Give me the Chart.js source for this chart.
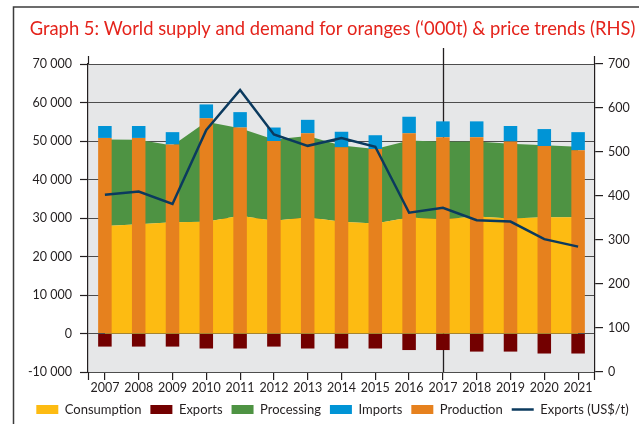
<!DOCTYPE html>
<html>
<head>
<meta charset="utf-8">
<script src="https://cdn.jsdelivr.net/npm/chart.js@4.4.1/dist/chart.umd.min.js"></script>
<style>
html,body{margin:0;padding:0;background:#fff;}
#wrap{position:relative;width:639px;height:424px;}
canvas{display:block;}
</style>
</head>
<body>
<div id="wrap"><canvas id="c" width="639" height="424"></canvas></div>
<script>
// ---- data ----
const years = ['2007','2008','2009','2010','2011','2012','2013','2014','2015','2016','2017','2018','2019','2020','2021'];
const consumption = [27900, 28400, 28900, 29000, 30600, 29300, 30200, 29000, 28600, 30100, 29700, 30400, 29900, 30200, 30200];
const processing  = [22500, 21900, 19900, 26000, 22700, 21100, 21100, 19800, 19300, 20000, 20100, 19500, 19400, 18700, 18300];
const production  = [50800, 50800, 49100, 55900, 53500, 50000, 52000, 48400, 47900, 52000, 51000, 51000, 49900, 48700, 47600];
const imports     = [3100, 3100, 3200, 3600, 4000, 3500, 3500, 4000, 3600, 4300, 4100, 4100, 4000, 4400, 4700];
const exportsQty  = [-3400, -3400, -3400, -3900, -3900, -3400, -3900, -3900, -3900, -4300, -4300, -4700, -4700, -5200, -5200];
const exportPrice = [403, 410, 382, 550, 641, 540, 514, 532, 512, 362, 373, 345, 342, 302, 285];
const leftTicks  = {min: -10000, max: 70000, step: 10000};
const rightTicks = {min: 0, max: 700, step: 100};
const markerYear = '2017';

const FONT = 'Lato, "Open Sans", sans-serif';
const TXT = '#231f20';
const titleText = 'Graph 5: World supply and demand for oranges (\u2018000t) & price trends (RHS)';

// fit title width
const mctx = document.createElement('canvas').getContext('2d');
mctx.font = '20px ' + FONT;
let titleSize = 20 * 606 / mctx.measureText(titleText).width;
titleSize = Math.max(14, Math.min(22, titleSize));

function fmt(v) {
  if (v === 0) return '0';
  const s = Math.abs(v).toString().replace(/\B(?=(\d{3})+(?!\d))/g, ' ');
  return (v < 0 ? '-' : '') + s;
}

const decor = {
  id: 'decor',
  beforeDraw(chart) {
    const {ctx, chartArea: a} = chart;
    ctx.save();
    ctx.fillStyle = '#e6e7e8';
    ctx.fillRect(a.left, a.top, a.right - a.left, a.bottom - a.top);
    ctx.strokeStyle = '#3c3c3c';
    ctx.lineWidth = 1.5;
    ctx.beginPath();
    ctx.moveTo(13.5, 424); ctx.lineTo(13.5, 7); ctx.lineTo(639, 7);
    ctx.stroke();
    ctx.restore();
  },
  beforeDatasetsDraw(chart) {
    const {ctx, chartArea: a} = chart;
    const x = Math.round(chart.scales.x.getPixelForValue(years.indexOf(markerYear))) + 0.5;
    ctx.save();
    ctx.strokeStyle = '#231f20';
    ctx.lineWidth = 1.3;
    ctx.beginPath();
    ctx.moveTo(x, a.top - 16); ctx.lineTo(x, a.bottom);
    ctx.stroke();
    ctx.restore();
  },
  afterDraw(chart) {
    const {ctx, chartArea: a} = chart;
    ctx.save();
    ctx.strokeStyle = '#231f20';
    ctx.lineWidth = 1.2;
    ctx.beginPath();
    ctx.moveTo(a.left + 0.5, a.top - 8); ctx.lineTo(a.left + 0.5, a.top);
    ctx.moveTo(a.right - 0.5, a.top - 8); ctx.lineTo(a.right - 0.5, a.top);
    ctx.moveTo(a.left + 0.5, a.bottom); ctx.lineTo(a.left + 0.5, a.bottom + 8);
    ctx.moveTo(a.right - 0.5, a.bottom); ctx.lineTo(a.right - 0.5, a.bottom + 8);
    ctx.stroke();
    ctx.restore();
  }
};

const barCommon = {type: 'bar', stack: 's', barPercentage: 0.4, categoryPercentage: 1, borderWidth: 0, yAxisID: 'y'};

const datasets = [
  {type: 'line', label: 'Consumption', data: consumption, backgroundColor: '#fdbb12', borderColor: '#fdbb12',
   borderWidth: 0, pointRadius: 0, fill: 'origin', order: 3, yAxisID: 'y', legendStyle: 'rect'},
  Object.assign({label: 'Exports', data: exportsQty, backgroundColor: '#730000', order: 1, legendStyle: 'rect'}, barCommon),
  {type: 'line', label: 'Processing', data: processing, backgroundColor: '#4e9343', borderColor: '#4e9343',
   borderWidth: 0, pointRadius: 0, fill: 0, order: 3, yAxisID: 'y', legendStyle: 'rect'},
  Object.assign({label: 'Imports', data: imports, backgroundColor: '#0094d6', order: 2, legendStyle: 'rect'}, barCommon),
  Object.assign({label: 'Production', data: production, backgroundColor: '#e6811e', order: 1, legendStyle: 'rect'}, barCommon),
  {type: 'line', label: 'Exports (US$/t)', data: exportPrice, borderColor: '#0b3a5e', backgroundColor: '#0b3a5e',
   borderWidth: 2.5, pointRadius: 0, fill: false, tension: 0, order: 0, yAxisID: 'y2', legendStyle: 'line'}
];

new Chart(document.getElementById('c'), {
  type: 'bar',
  data: {labels: years, datasets},
  plugins: [decor],
  options: {
    responsive: false,
    animation: false,
    devicePixelRatio: 1,
    layout: {padding: {left: 26, right: 0, top: 7, bottom: -2}},
    plugins: {
      tooltip: {enabled: false},
      title: {
        display: true, text: titleText, color: '#e4231b',
        font: {family: FONT, size: titleSize, weight: 'normal'},
        padding: {top: 11, bottom: 64 - 7 - 11 - 1.2 * titleSize}
      },
      legend: {
        position: 'bottom',
        labels: {
          usePointStyle: true, pointStyleWidth: 22, boxHeight: 9, padding: 9,
          color: TXT, font: {family: FONT, size: 13},
          generateLabels: (chart) => chart.data.datasets.map((ds, i) => ({
            text: ds.label,
            fillStyle: ds.backgroundColor,
            strokeStyle: ds.legendStyle === 'line' ? ds.borderColor : ds.backgroundColor,
            lineWidth: ds.legendStyle === 'line' ? 2.5 : 0,
            pointStyle: ds.legendStyle,
            fontColor: TXT,
            hidden: false,
            datasetIndex: i
          }))
        }
      }
    },
    scales: {
      x: {
        stacked: true,
        offset: true,
        grid: {offset: false, drawOnChartArea: false, drawTicks: true, tickLength: 8, color: TXT, lineWidth: 1.2},
        border: {display: false},
        ticks: {color: TXT, font: {family: FONT, size: 12.5}, padding: 0, maxRotation: 0, autoSkip: false},
        afterFit: (s) => { s.height = 22; }
      },
      y: {
        position: 'left',
        stacked: true,
        min: leftTicks.min, max: leftTicks.max,
        ticks: {stepSize: leftTicks.step, color: TXT, font: {family: FONT, size: 12.5}, padding: 8, callback: (v) => fmt(v)},
        grid: {color: '#4d4d4d', lineWidth: 1, tickLength: 8, tickColor: TXT, tickWidth: 1.2},
        border: {display: true, color: TXT, width: 1.2},
        afterFit: (s) => { s.width = 62; }
      },
      y2: {
        position: 'right',
        min: rightTicks.min, max: rightTicks.max,
        ticks: {stepSize: rightTicks.step, color: TXT, font: {family: FONT, size: 12.5}, padding: 5},
        grid: {drawOnChartArea: false, tickLength: 8, color: TXT, lineWidth: 1.2},
        border: {display: true, color: TXT, width: 1.2},
        afterFit: (s) => { s.width = 44; }
      }
    }
  }
});
</script>
</body>
</html>
